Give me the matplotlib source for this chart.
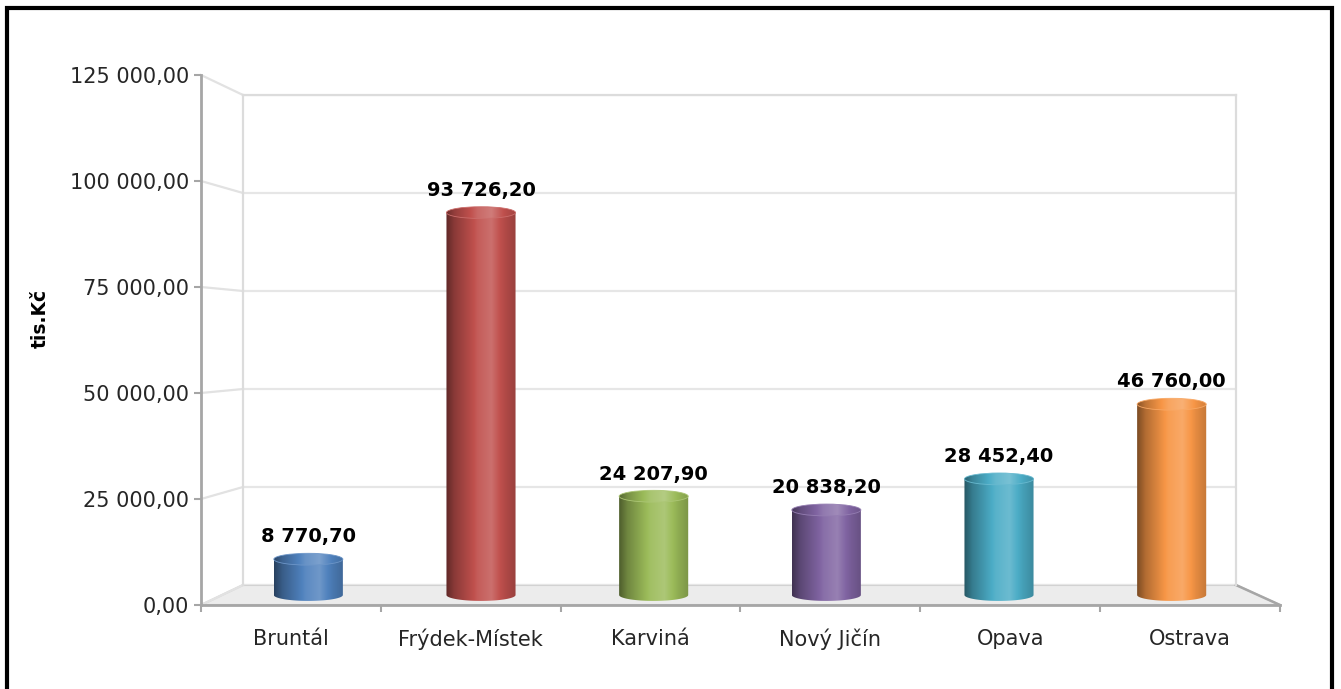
import numpy as np
import matplotlib
matplotlib.use("Agg")
import matplotlib.pyplot as plt
from matplotlib.patches import Polygon, Ellipse, Rectangle, PathPatch
from matplotlib.path import Path
from matplotlib.lines import Line2D
from matplotlib.colors import to_rgb

# data
districts = ["Bruntál", "Frýdek-Místek", "Karviná", "Nový Jičín", "Opava", "Ostrava"]
amounts = [8770.70, 93726.20, 24207.90, 20838.20, 28452.40, 46760.00]
bar_colors = ["#4f81bd", "#c0504d", "#9bbb59", "#8064a2", "#4bacc6", "#f79646"]
y_ticks = [0, 25000, 50000, 75000, 100000, 125000]
y_label = "tis.Kč"

W, H = 1341, 689
plt.rcParams["font.family"] = ["DejaVu Sans"]


def cz(v):
    return f"{v:,.2f}".replace(",", " ").replace(".", ",")


def px_rect(left, top, right, bottom):
    # pixel box -> figure fraction [l, b, w, h]
    return [left / W, 1 - bottom / H, (right - left) / W, (bottom - top) / H]


fig = plt.figure(figsize=(W / 100, H / 100), dpi=100)
n = len(districts)
ymax = 125000

# bar plane gets some room below zero for the bottom ellipses
ylow = -4000
bar_bottom_px = 595 + (-ylow) * (595 - 85) / ymax

# three planes of the pseudo 3D box: back wall, front axis plane, bar plane
ax_back = fig.add_axes(px_rect(243, 95, 1236, 585), zorder=0)
ax_front = fig.add_axes(px_rect(201, 75, 1280, 605), zorder=1)
ax = fig.add_axes(px_rect(222, 85, 1258, bar_bottom_px), zorder=2)

for a in (ax_back, ax_front):
    a.set_xlim(0, n)
    a.set_ylim(0, ymax)
    a.patch.set_alpha(0)
ax.patch.set_alpha(0)

# back wall
ax_back.set_xticks([])
ax_back.set_yticks(y_ticks)
ax_back.tick_params(left=False, labelleft=False)
ax_back.grid(axis="y", color="#e6e6e6", lw=1.6)
for s in ["left", "right", "top"]:
    ax_back.spines[s].set_color("#dcdcdc")
    ax_back.spines[s].set_linewidth(1.6)
ax_back.spines["bottom"].set_visible(False)


def to_fig(a, pt):
    return fig.transFigure.inverted().transform(a.transData.transform(pt))


# floor
floor = [to_fig(ax_front, (0, 0)), to_fig(ax_front, (n, 0)),
         to_fig(ax_back, (n, 0)), to_fig(ax_back, (0, 0))]
ax_back.add_patch(Polygon(floor, closed=True, transform=fig.transFigure,
                          facecolor="#ececec", edgecolor="#d2d2d2", lw=1.5,
                          clip_on=False, zorder=0))
ax_back.add_line(Line2D([floor[1][0], floor[2][0]], [floor[1][1], floor[2][1]],
                        transform=fig.transFigure, color="#a6a6a6", lw=1.8,
                        clip_on=False))
# side wall grid lines
for t in y_ticks:
    p0 = to_fig(ax_front, (0, t))
    p1 = to_fig(ax_back, (0, t))
    ax_back.add_line(Line2D([p0[0], p1[0]], [p0[1], p1[1]], transform=fig.transFigure,
                            color="#e2e2e2", lw=1.6, clip_on=False))

# front axes: ticks and labels
for s in ["right", "top"]:
    ax_front.spines[s].set_visible(False)
for s in ["left", "bottom"]:
    ax_front.spines[s].set_color("#a6a6a6")
    ax_front.spines[s].set_linewidth(2)
ax_front.set_yticks(y_ticks)
ax_front.set_yticklabels([cz(t) for t in y_ticks])
ax_front.set_xticks(np.arange(n + 1))
ax_front.set_xticklabels([])
ax_front.set_xticks(np.arange(n) + 0.5, minor=True)
ax_front.set_xticklabels(districts, minor=True)
ax_front.tick_params(axis="both", which="major", direction="out", length=5,
                     width=1.5, color="#a6a6a6", labelsize=15, labelcolor="#262626")
ax_front.tick_params(axis="x", which="minor", length=0, pad=17, labelsize=15,
                     labelcolor="#262626")

fig.text(40 / W, 1 - 318 / H, y_label, rotation=90, ha="center", va="center",
         fontsize=13.5, fontweight="bold")

# cylinders
ax.axis("off")
bw = 0.40
eh = 2900  # ellipse height in data units
prof_u = [0.0, 0.12, 0.45, 0.65, 0.85, 1.0]
prof_f = [0.50, 0.72, 1.05, 1.13, 0.92, 0.80]
u = np.linspace(0, 1, 200)
fac = np.interp(u, prof_u, prof_f)


def shade(rgb, f):
    rgb = np.array(rgb)
    if f <= 1:
        return rgb * f
    return rgb + (1 - rgb) * (f - 1) * 1.4


for i, (v, c) in enumerate(zip(amounts, bar_colors)):
    base = to_rgb(c)
    x0 = i + 0.5 - bw / 2
    x1 = i + 0.5 + bw / 2
    grad = np.array([[shade(base, f) for f in fac]])
    t = np.linspace(np.pi, 2 * np.pi, 60)
    bx = i + 0.5 + bw / 2 * np.cos(t)
    by = eh / 2 * np.sin(t)
    verts = [(x0, v)] + list(zip(bx, by)) + [(x1, v), (x0, v)]
    clip = PathPatch(Path(verts, closed=True), transform=ax.transData,
                     facecolor="none", edgecolor="none")
    ax.add_patch(clip)
    im = ax.imshow(grad, extent=(x0, x1, -eh / 2, v), aspect="auto",
                   interpolation="bilinear", zorder=3)
    im.set_clip_path(clip)
    top_grad = np.array([[shade(base, min(f + 0.05, 1.2)) for f in fac]])
    top = Ellipse((i + 0.5, v), bw, eh, transform=ax.transData,
                  facecolor="none", edgecolor="none")
    ax.add_patch(top)
    im2 = ax.imshow(top_grad, extent=(x0, x1, v - eh / 2, v + eh / 2),
                    aspect="auto", interpolation="bilinear", zorder=4)
    im2.set_clip_path(top)
    ax.add_patch(Ellipse((i + 0.5, v), bw, eh, facecolor="none",
                         edgecolor=shade(base, 1.12), lw=0.6, zorder=5))
    ax.annotate(cz(v), (i + 0.5, v), xytext=(0, 16), textcoords="offset points",
                ha="center", va="center", fontsize=14, fontweight="bold",
                color="black", zorder=6)

ax.set_xlim(0, n)
ax.set_ylim(ylow, ymax)

# outer frame
fig.add_artist(Rectangle((7 / W, -0.05), (1332 - 7) / W, 1.05 - 8 / H,
                         transform=fig.transFigure, fill=False,
                         edgecolor="black", lw=3))

fig.savefig("out.png", dpi=100)
